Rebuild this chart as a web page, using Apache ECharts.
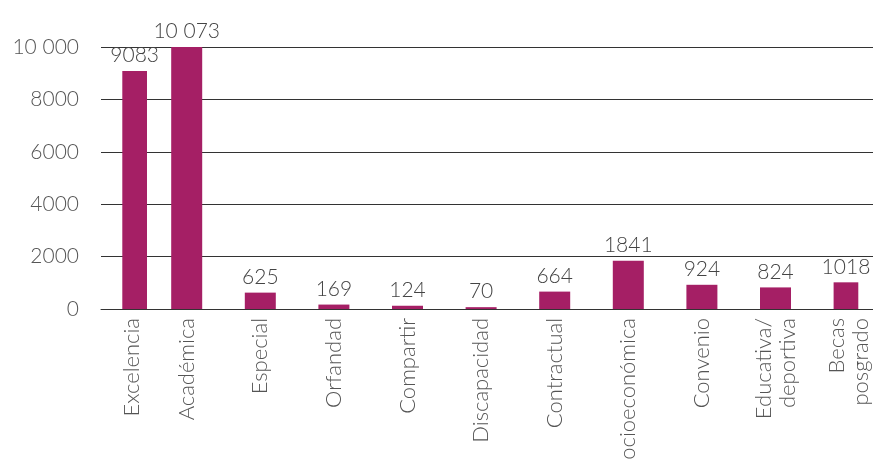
<!DOCTYPE html>
<html><head><meta charset="utf-8">
<script src="https://cdn.jsdelivr.net/npm/echarts@6/dist/echarts.min.js"></script>
<style>html,body{margin:0;padding:0;background:#fff}#c{width:873px;height:461px}</style>
</head><body><div id="c"></div>
<script>
// ---- data ----
const categories = ['Excelencia','Académica','Especial','Orfandad','Compartir','Discapacidad','Contractual','Socioeconómica','Convenio','Educativa/\ndeportiva','Becas\nposgrado'];
const values = [9083,10073,625,169,124,70,664,1841,924,824,1018];
const yTicks = [0,2000,4000,6000,8000,10000];

// ---- formatting ----
const fmt = v => Number(v) >= 10000 ? String(v).replace(/(\d)(?=(\d{3})+$)/g,'$1 ') : String(v);

// ---- layout: place categories on a finer slot axis (first pair sits closer) ----
const slotOf = i => i === 0 ? 0 : 3 + 4*(i-1);
const nSlots = slotOf(categories.length-1) + 1;
const slotLabels = new Array(nSlots).fill('');
const slotValues = new Array(nSlots).fill(null);
categories.forEach((c,i)=>{ slotLabels[slotOf(i)] = c; slotValues[slotOf(i)] = values[i]; });
const slotKeys = slotLabels.map((_,i)=>'s'+i);

const FONT = 'Lato, "Noto Sans", sans-serif';
const chart = echarts.init(document.getElementById('c'), null, {renderer:'canvas'});
chart.setOption({
  animation:false,
  backgroundColor:'#fff',
  grid:[
    {left:101, right:0, top:47, bottom:152, outerBoundsMode:'none', containLabel:false},
    {left:122.3, right:14.7, top:47, bottom:152, outerBoundsMode:'none', containLabel:false}
  ],
  xAxis:[
    {gridIndex:0, type:'category', data:['a'], axisLine:{show:true, lineStyle:{color:'#333', width:1}},
     axisTick:{show:false}, axisLabel:{show:false}},
    {gridIndex:1, type:'category', data:slotKeys, axisLine:{show:false}, axisTick:{show:false},
     axisLabel:{interval:0, rotate:90, margin:9, fontSize:22, fontFamily:FONT, fontWeight:300, color:'#555', lineHeight:24,
       formatter:(v,idx)=>slotLabels[idx]}}
  ],
  yAxis:[
    {gridIndex:0, type:'value', min:yTicks[0], max:yTicks[yTicks.length-1], interval:yTicks[1]-yTicks[0],
     axisLine:{show:false}, axisTick:{show:false},
     axisLabel:{margin:22, fontSize:21, fontFamily:FONT, fontWeight:300, color:'#555', formatter:fmt},
     splitLine:{show:true, lineStyle:{color:'#333', width:1}}},
    {gridIndex:1, type:'value', min:yTicks[0], max:yTicks[yTicks.length-1], show:false}
  ],
  series:[{
    type:'bar', xAxisIndex:1, yAxisIndex:1, data:slotValues, barWidth:31,
    itemStyle:{color:'#A51F65'},
    label:{show:true, position:'top', distance:5, fontSize:21, fontFamily:FONT, fontWeight:300, color:'#444',
      formatter:p=>fmt(p.value)}
  }]
});
</script></body></html>
